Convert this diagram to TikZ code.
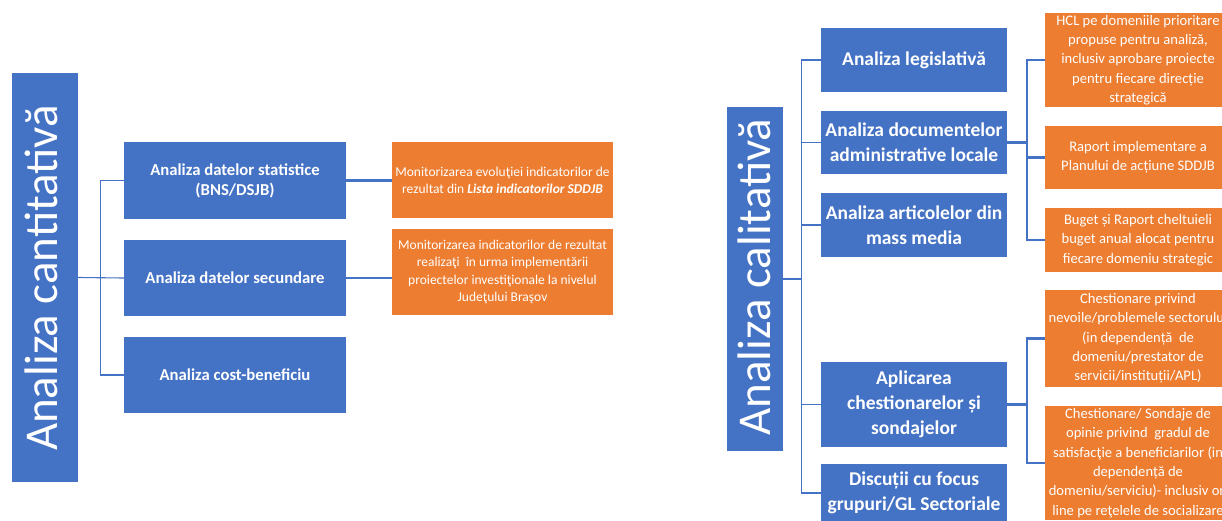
\documentclass[tikz,border=0pt]{standalone}
\usepackage{fontspec}
\setmainfont{Carlito}
\usetikzlibrary{calc}
\definecolor{mblue}{HTML}{4472C4}
\definecolor{morange}{HTML}{ED7D31}
\tikzset{
  bigbox/.style={fill=mblue, draw=none, inner sep=0pt},
  bigtext/.style={text=white, font=\fontsize{47}{50}\selectfont, rotate=90, anchor=base, inner sep=0pt},
  lbox/.style={fill=mblue, draw=none, inner sep=0pt, text=white, align=center,
    font=\fontsize{16.7}{20}\selectfont\bfseries, minimum width=222pt},
  rbox/.style={fill=mblue, draw=none, inner sep=0pt, text=white, align=center,
    font=\fontsize{19.5}{25}\selectfont\bfseries, minimum width=186pt},
  mbox/.style={fill=morange, draw=none, inner sep=0pt, text=white, align=center,
    font=\fontsize{13.5}{17.5}\selectfont, minimum width=221pt},
  obox/.style={fill=morange, draw=none, inner sep=0pt, text=white, align=center,
    font=\fontsize{14.6}{19.3}\selectfont, minimum width=186pt},
  thinline/.style={draw=mblue, line width=1.1pt},
  thickline/.style={draw=mblue, line width=2.6pt},
}
\begin{document}
\begin{tikzpicture}[x=1pt,y=-1pt]
\useasboundingbox (0,0) rectangle (1222,521);
\clip (0,0) rectangle (1222,521);
\fill[white] (0,0) rectangle (1222,521);

% ---------- left group ----------
\node[bigbox, minimum width=66pt, minimum height=409pt] (lq) at (45,277.5) {};
\node[bigtext] (lqt) at (57,278) {Analiza cantitativă};

\node[lbox, minimum height=77pt] (b1) at (235,180.5) {Analiza datelor statistice\\(BNS/DSJB)};
\node[lbox, minimum height=76pt] (b2) at (235,278) {Analiza datelor secundare};
\node[lbox, minimum height=76pt] (b3) at (235,375) {Analiza cost-beneficiu};

\coordinate (lt) at ($(b1.west)+(-23pt,0)$);
\draw[thinline] (b1.west) -- (lt) |- (b3.west);
\draw[thinline] (lq.east) -- (b2.west);

\node[mbox, minimum height=76pt] (m1) at (502.5,180.5) {Monitorizarea evoluţiei indicatorilor de\\rezultat din \textbf{\textit{Lista indicatorilor SDDJB}}};
\node[mbox, minimum height=86pt] (m2) at (502.5,272) {Monitorizarea indicatorilor de rezultat\\realizaţi \ în urma implementării\\proiectelor investiţionale la nivelul\\Judeţului Braşov};

\draw[thickline] (b1.east) -- (b1.east -| m1.west);
\draw[thickline] (b2.east) -- (b2.east -| m2.west);

% ---------- right group ----------
\node[bigbox, minimum width=56pt, minimum height=344pt] (rq) at (755,279) {};
\node[bigtext] (rqt) at (770,277) {Analiza calitativă};

\node[rbox, minimum height=64pt] (r1) at (914,60) {Analiza legislativă};
\node[rbox, minimum height=63pt] (r2) at (914,142.5) {Analiza documentelor\\administrative locale};
\node[rbox, minimum height=64pt] (r3) at (914,225) {Analiza articolelor din\\mass media};
\node[rbox, minimum height=85pt] (r4) at (914,404.5) {Aplicarea\\chestionarelor și\\sondajelor};
\node[rbox, minimum height=58pt] (r5) at (914,493) {Discuții cu focus\\grupuri/GL Sectoriale};

\coordinate (rt) at ($(r1.west)+(-19pt,0)$);
\draw[thinline] (r1.west) -- (rt) |- (r5.west);
\draw[thinline] (r2.west) -- ++(-19pt,0);
\draw[thinline] (r3.west) -- ++(-19pt,0);
\draw[thinline] (r4.west) -- ++(-19pt,0);
\draw[thinline] (rq.east) -- (rq.east -| rt);

\node[obox, minimum height=94pt] (o1) at (1138,60) {HCL pe domeniile prioritare\\propuse pentru analiză,\\inclusiv aprobare proiecte\\pentru fiecare direcție\\strategică};
\node[obox, minimum height=63pt] (o2) at (1138,157.5) {Raport implementare a\\Planului de acțiune SDDJB};
\node[obox, minimum height=64pt] (o3) at (1138,240) {Buget și Raport cheltuieli\\buget anual alocat pentru\\fiecare domeniu strategic};
\node[obox, minimum height=97pt] (o4) at (1138,338.5) {Chestionare privind\\nevoile/problemele sectorului\\(in dependență \ de\\domeniu/prestator de\\servicii/instituții/APL)};
\node[obox, minimum height=114pt] (o5) at (1138,463) {Chestionare/ Sondaje de\\opinie privind \ gradul de\\satisfacţie a beneficiarilor (in\\dependență de\\domeniu/serviciu)- inclusiv on\\line pe reţelele de socializare};

\coordinate (ot1) at ($(o1.west)+(-18pt,0)$);
\draw[thickline] (o1.west) -- (ot1) |- (o3.west);
\draw[thickline] (o2.west) -- ++(-18pt,0);
\draw[thickline] (r2.east) -- (r2.east -| ot1);

\coordinate (ot2) at ($(o4.west)+(-18pt,0)$);
\draw[thickline] (o4.west) -- (ot2) |- (o5.west);
\draw[thickline] (r4.east) -- (r4.east -| ot2);
\end{tikzpicture}
\end{document}
